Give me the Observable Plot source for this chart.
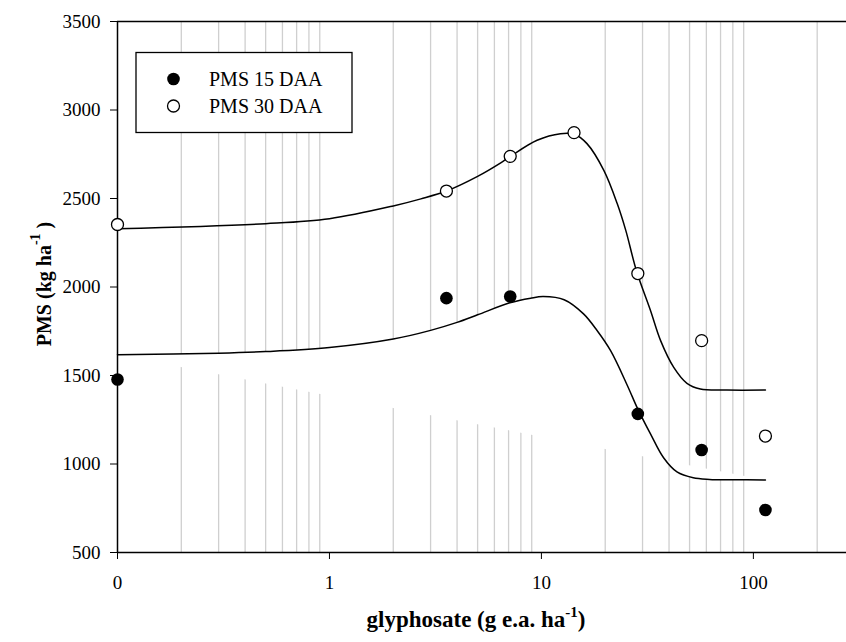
<!DOCTYPE html>
<html><head><meta charset="utf-8">
<script src="https://cdn.jsdelivr.net/npm/d3@7"></script>
<script src="https://cdn.jsdelivr.net/npm/@observablehq/plot@0.6"></script>
<style>
html,body{margin:0;padding:0;background:#fff;}
#chart{width:846px;height:642px;}
</style></head><body><div id="chart"></div>
<script>
// Doses (g e.a. ha-1); 0 is drawn at the axis origin of the log scale
const doses = [0, 3.5625, 7.125, 14.25, 28.5, 57, 114];
const pms15 = [1477, 1937, 1946, null, 1283, 1079, 740];
const pms30 = [2353, 2542, 2738, 2872, 2076, 1697, 1158];

// Fitted curves
const fitDose15 = [0.1, 0.3, 0.5, 1, 2, 3, 4, 5, 7.1, 8.9, 10.2, 12.8, 15.8, 18.3, 21.2, 25.4, 28.5, 32.7, 37.7, 43.6, 52, 62, 80, 114];
const fit15 = [1617, 1626, 1635, 1658, 1706, 1755, 1800, 1843, 1911, 1937, 1946, 1928, 1848, 1754, 1640, 1445, 1310, 1170, 1035, 955, 922, 913, 911, 910];
const fitDose30 = [0.1, 0.5, 1, 2, 2.7, 3.56, 5, 6.4, 7.14, 9.54, 12.3, 14.3, 16.4, 19.7, 22.8, 25, 28.1, 32.7, 36.5, 42.1, 48.6, 56.2, 75, 114];
const fit30 = [2329, 2358, 2386, 2458, 2498, 2542, 2625, 2700, 2738, 2829, 2866, 2863, 2810, 2659, 2470, 2320, 2090, 1867, 1697, 1546, 1456, 1424, 1418, 1418];

// Axes
const xOrigin = 0.1;
const xTicks = [0.1, 1, 10, 100];
const xTickLabels = ["0", "1", "10", "100"];
const yTicks = [500, 1000, 1500, 2000, 2500, 3000, 3500];
const gridTicks = [0.2,0.3,0.4,0.5,0.6,0.7,0.8,0.9,2,3,4,5,6,7,8,9,20,30,40,50,60,70,80,90,200];
const seriesNames = ["PMS 15 DAA", "PMS 30 DAA"];

const toX = d => d === 0 ? xOrigin : d;
const pts15 = doses.map((d, i) => ({x: toX(d), y: pms15[i]})).filter(p => p.y != null);
const pts30 = doses.map((d, i) => ({x: toX(d), y: pms30[i]})).filter(p => p.y != null);
const curve15 = fitDose15.map((d, i) => ({x: d, y: fit15[i]}));
const curve30 = fitDose30.map((d, i) => ({x: d, y: fit30[i]}));

const FONT = "'Liberation Serif', 'Times New Roman', serif";

const chart = Plot.plot({
  width: 846, height: 642,
  marginLeft: 117, marginRight: 0, marginTop: 21, marginBottom: 90,
  style: {fontFamily: FONT, fontSize: "19px", color: "#000", background: "#fff", overflow: "visible"},
  x: {type: "log", domain: [0.1, 275], ticks: xTicks,
      tickFormat: d => xTickLabels[xTicks.indexOf(d)], tickSize: 7, tickPadding: 16, label: null},
  y: {domain: [500, 3500], ticks: yTicks, tickFormat: d => String(d), tickSize: 7, tickPadding: 10, label: null},
  marks: [
    Plot.ruleX(gridTicks, {stroke: "#cfcfcf", strokeWidth: 1.3}),
    Plot.line(curve15, {x: "x", y: "y", stroke: "#000", fill: "#fff", strokeWidth: 1.5, curve: "catmull-rom"}),
    Plot.line(curve30, {x: "x", y: "y", stroke: "#000", strokeWidth: 1.5, curve: "catmull-rom"}),
    Plot.ruleX([xOrigin], {stroke: "#000", strokeWidth: 1.5}),
    Plot.ruleY([500], {stroke: "#000", strokeWidth: 1.5}),
    Plot.ruleY([3500], {stroke: "#000", strokeWidth: 1.5}),
    Plot.dot(pts15, {x: "x", y: "y", r: 6.3, fill: "#000", stroke: "none"}),
    Plot.dot(pts30, {x: "x", y: "y", r: 6, fill: "#fff", stroke: "#000", strokeWidth: 1.3})
  ]
});
document.getElementById("chart").appendChild(chart);

const svg = d3.select(chart);
// X axis title
const xt = svg.append("text").attr("x", 476).attr("y", 627).attr("text-anchor", "middle")
  .attr("font-family", FONT).attr("font-weight", "bold").attr("font-size", 23).attr("fill", "#000");
xt.append("tspan").text("glyphosate (g e.a. ha");
xt.append("tspan").attr("font-size", 15).attr("dy", -10).text("-1");
xt.append("tspan").attr("dy", 10).text(")");
// Y axis title
const yt = svg.append("text").attr("transform", "translate(51,284) rotate(-90)").attr("text-anchor", "middle")
  .attr("font-family", FONT).attr("font-weight", "bold").attr("font-size", 20).attr("fill", "#000");
yt.append("tspan").text("PMS (kg ha");
yt.append("tspan").attr("font-size", 14).attr("dy", -11).text("-1");
yt.append("tspan").attr("dy", 11).text(" )");

// Legend
const lg = svg.append("g").attr("font-family", FONT).attr("font-size", 20).attr("text-anchor", "start");
lg.append("rect").attr("x", 136).attr("y", 52.5).attr("width", 216).attr("height", 80)
  .attr("fill", "#fff").attr("stroke", "#000").attr("stroke-width", 1.3);
lg.append("circle").attr("cx", 173.5).attr("cy", 79).attr("r", 6.3).attr("fill", "#000");
lg.append("circle").attr("cx", 173.5).attr("cy", 106).attr("r", 6).attr("fill", "#fff").attr("stroke", "#000").attr("stroke-width", 1.3);
lg.append("text").attr("x", 209).attr("y", 86).attr("text-anchor", "start").text(seriesNames[0]);
lg.append("text").attr("x", 209).attr("y", 113).attr("text-anchor", "start").text(seriesNames[1]);
</script></body></html>
